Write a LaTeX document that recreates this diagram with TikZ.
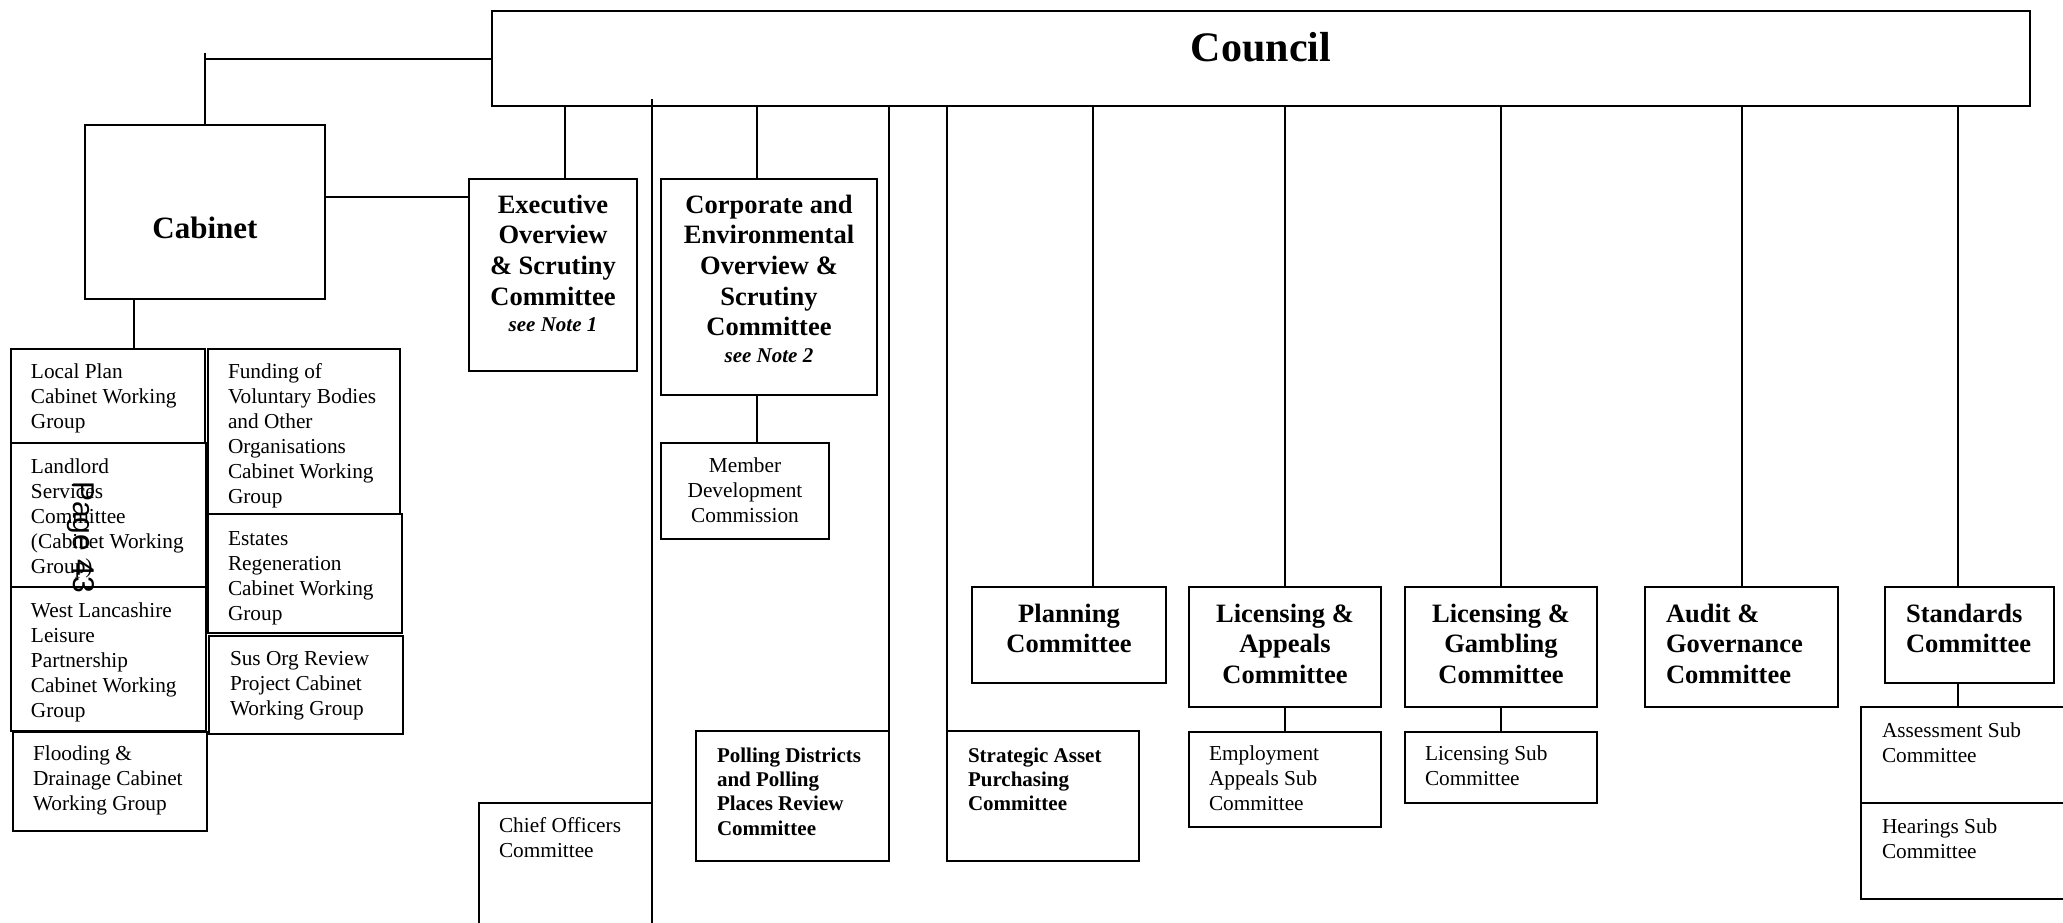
\documentclass[tikz,border=0pt]{standalone}
\usepackage{fontspec}
\setmainfont{Liberation Serif}
\newfontfamily\pagefont{Liberation Sans}
\usetikzlibrary{calc}
\newcommand{\fR}{\fontsize{21.3}{25}\selectfont}
\newcommand{\fB}{\fontsize{26.5}{30.7}\selectfont\bfseries}
\newcommand{\fBs}{\fontsize{21}{24.4}\selectfont\bfseries}
\newcommand{\fN}{\par\fontsize{21}{26.5}\selectfont\bfseries\itshape}
% centred box: width, height, top gap, content
\newcommand{\bxc}[4]{\parbox[c][#2][t]{#1}{\vspace*{#3}\centering\rule{0pt}{20pt}#4}}
% left box: width, height, top gap, left indent, content
\newcommand{\bxl}[5]{\parbox[c][#2][t]{#1}{\vspace*{#3}\raggedright\leftskip=#4\relax\rule{0pt}{20pt}#5}}
\tikzset{
  box/.style={draw, line width=2pt, inner sep=0pt, outer sep=0pt, anchor=north west},
  conn/.style={line width=2pt},
  pagemark/.style={rotate=-90, inner sep=0pt, font=\pagefont\fontsize{30}{30}\selectfont}
}
\begin{document}
\begin{tikzpicture}[x=1pt,y=-1pt]
\path[fill=white] (0,0) rectangle (2063,923);
\useasboundingbox (0,0) rectangle (2063,923);

% top level
\node[box] (council) at (492,11) {\parbox[c][95pt][t]{1538pt}{\vspace*{21pt}\centering\rule{0pt}{30pt}\fontsize{42}{48}\selectfont\bfseries Council}};
\node[box] (cab) at (85,125) {\parbox[c][174pt][t]{240pt}{\vspace*{88pt}\centering\rule{0pt}{25pt}\fontsize{31}{36}\selectfont\bfseries Cabinet}};

% cabinet working groups
\node[box] (lp) at (11,349) {\bxl{194pt}{94pt}{9pt}{20pt}{\fR Local Plan\\Cabinet Working\\Group}};
\node[box] (ll) at (11,443) {\bxl{195pt}{144pt}{10pt}{20pt}{\fR Landlord\\Services\\Committee\\(Cabinet Working\\Group)}};
\node[box] (wl) at (11,587) {\bxl{195pt}{144pt}{10pt}{20pt}{\fR West Lancashire\\Leisure\\Partnership\\Cabinet Working\\Group}};
\node[box] (fl) at (13,732) {\bxl{194pt}{99pt}{8pt}{20pt}{\fR Flooding \&\\Drainage Cabinet\\Working Group}};
\node[box] (fund) at (208,349) {\bxl{192pt}{165pt}{9pt}{20pt}{\fR Funding of\\Voluntary Bodies\\and Other\\Organisations\\Cabinet Working\\Group}};
\node[box] (est) at (208,514) {\bxl{194pt}{119pt}{11pt}{20pt}{\fR Estates\\Regeneration\\Cabinet Working\\Group}};
\node[box] (sus) at (209,636) {\bxl{194pt}{98pt}{9pt}{21pt}{\fR Sus Org Review\\Project Cabinet\\Working Group}};

% committees
\node[box] (exec) at (469,179) {\bxc{168pt}{192pt}{14pt}{\fB Executive\\Overview\\\& Scrutiny\\Committee\fN see Note 1}};
\node[box] (corp) at (661,179) {\bxc{216pt}{216pt}{14pt}{\fB Corporate and\\Environmental\\Overview \&\\Scrutiny\\Committee\fN see Note 2}};
\node[box] (mdc) at (661,443) {\bxc{168pt}{96pt}{9pt}{\fR Member\\Development\\Commission}};
\node[box] (co) at (479,803) {\bxl{173pt}{127pt}{9pt}{20pt}{\fR Chief Officers\\Committee}};
\node[box] (poll) at (696,731) {\bxl{193pt}{130pt}{11pt}{21pt}{\fBs Polling Districts\\and Polling\\Places Review\\Committee}};
\node[box] (strat) at (947,731) {\bxl{192pt}{130pt}{11pt}{21pt}{\fBs Strategic Asset\\Purchasing\\Committee}};
\node[box] (plan) at (972,587) {\bxc{194pt}{96pt}{15pt}{\fB Planning\\Committee}};
\node[box] (la) at (1189,587) {\bxc{192pt}{120pt}{15pt}{\fB Licensing \&\\Appeals\\Committee}};
\node[box] (emp) at (1189,732) {\bxl{192pt}{95pt}{8pt}{20pt}{\fR Employment\\Appeals Sub\\Committee}};
\node[box] (lg) at (1405,587) {\bxc{192pt}{120pt}{15pt}{\fB Licensing \&\\Gambling\\Committee}};
\node[box] (ls) at (1405,732) {\bxl{192pt}{71pt}{8pt}{20pt}{\fR Licensing Sub\\Committee}};
\node[box] (aud) at (1645,587) {\bxl{193pt}{120pt}{15pt}{21pt}{\fB Audit \&\\Governance\\Committee}};
\node[box] (std) at (1885,587) {\bxl{169pt}{96pt}{15pt}{21pt}{\fB Standards\\Committee}};
\node[box] (ass) at (1861,707) {\bxl{214pt}{96pt}{10pt}{21pt}{\fR Assessment Sub\\Committee}};
\node[box] (hear) at (1861,803) {\bxl{214pt}{96pt}{10pt}{21pt}{\fR Hearings Sub\\Committee}};

% page mark
\node[pagemark] (pg) at (81,537) {Page 43};

% connectors
\coordinate (cj) at (205,59);
\coordinate (cjt) at (205,53);
\draw[conn] (council.west |- cj) -- (cj);
\draw[conn] (cjt) -- (cab.north);
\draw[conn] ([yshift=15pt]cab.east) -- ([yshift=15pt]cab.east -| exec.west);
\draw[conn] ([xshift=-71pt]cab.south) -- ([xshift=-71pt]cab.south |- lp.north);
\draw[conn] ([xshift=12pt]exec.north) -- ([xshift=12pt]exec.north |- council.south);
\draw[conn] ([xshift=-12pt]corp.north) -- ([xshift=-12pt]corp.north |- council.south);
\draw[conn] ([xshift=-12pt]corp.south) -- ([xshift=-12pt]corp.south |- mdc.north);
\path (co.north east |- council.south) ++(0,-7) coordinate (cotop);
\draw[conn] (co.north east) -- (cotop);
\draw[conn] (poll.north east) -- (poll.north east |- council.south);
\draw[conn] (strat.north west) -- (strat.north west |- council.south);
\draw[conn] ([xshift=24pt]plan.north) -- ([xshift=24pt]plan.north |- council.south);
\draw[conn] (la.north) -- (la.north |- council.south);
\draw[conn] (la.south) -- (emp.north);
\draw[conn] (lg.north) -- (lg.north |- council.south);
\draw[conn] (lg.south) -- (ls.north);
\draw[conn] (aud.north) -- (aud.north |- council.south);
\draw[conn] ([xshift=-12pt]std.north) -- ([xshift=-12pt]std.north |- council.south);
\draw[conn] ([xshift=-12pt]std.south) -- ([xshift=-12pt]std.south |- ass.north);
\end{tikzpicture}
\end{document}
